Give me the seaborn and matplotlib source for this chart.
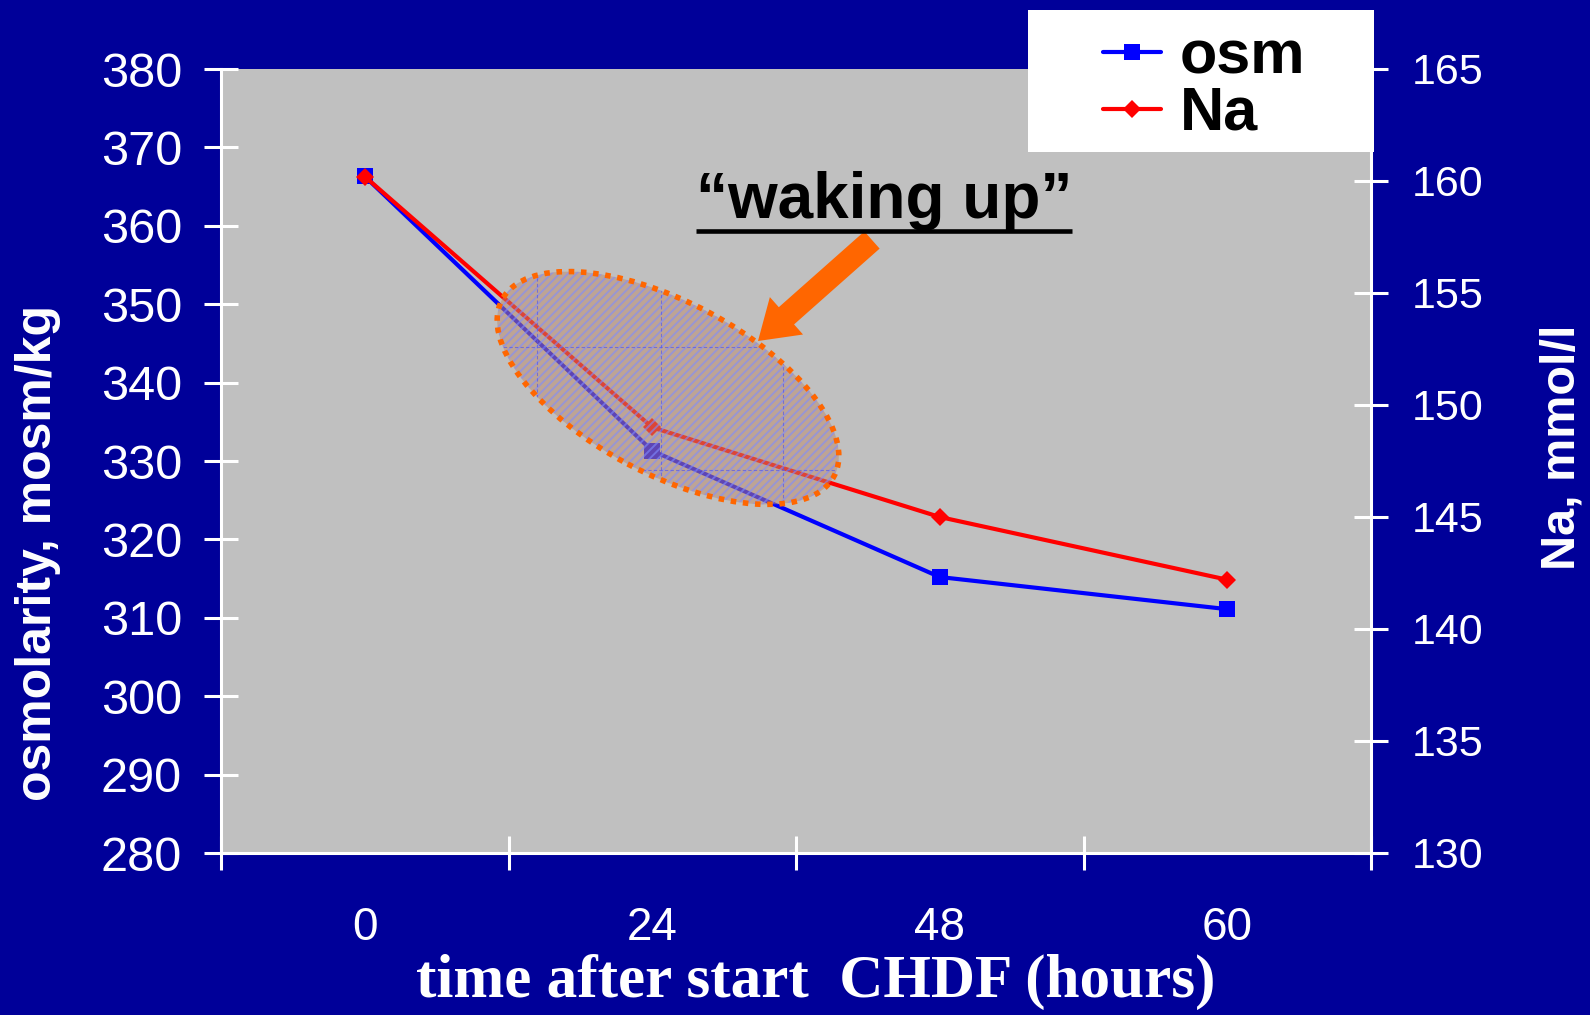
import numpy as np
import pandas as pd
import matplotlib
matplotlib.use("Agg")
import matplotlib.pyplot as plt
import seaborn as sns
from matplotlib.patches import Ellipse, Rectangle, FancyArrow
from matplotlib.lines import Line2D

# ---- data ----
hours = ["0", "24", "48", "60"]
osm = [366.3, 331.3, 315.2, 311.1]          # mosm/kg (left axis)
na = [160.2, 149.0, 145.0, 142.2]           # mmol/l (right axis)
left_ticks = list(range(280, 381, 10))
right_ticks = list(range(130, 166, 5))
series_names = ["osm", "Na"]

NAVY = "#000099"
PLOT_BG = "#C0C0C0"
BLUE = "#0000FF"
RED = "#FF0000"
ORANGE = "#FF6600"

sns.set_theme(style="white")
plt.rcParams["font.family"] = ["Liberation Sans", "DejaVu Sans"]
plt.rcParams["hatch.linewidth"] = 1.4

W, H = 1590, 1015
fig = plt.figure(figsize=(W / 100, H / 100), dpi=100, facecolor=NAVY)
L, R, T, B = 221, 1371, 69, 853
ax = fig.add_axes([L / W, 1 - B / H, (R - L) / W, (B - T) / H])
ax.set_facecolor(PLOT_BG)
ax2 = ax.twinx()

df = pd.DataFrame({"hours": hours, "osm": osm, "na": na})
sns.lineplot(data=df, x="hours", y="osm", ax=ax, color=BLUE, lw=3.0,
             marker="s", markersize=12, markeredgewidth=0, sort=False,
             legend=False)
sns.lineplot(data=df, x="hours", y="na", ax=ax2, color=RED, lw=3.0,
             marker="D", markersize=9, markeredgewidth=0, sort=False,
             legend=False)

# ---- axes styling ----
ax.set_xlim(-0.5, 3.5)
ax.set_ylim(280, 380)
ax2.set_ylim(130, 165)

for s in ["top", "right"]:
    ax.spines[s].set_visible(False)
for s in ["left", "bottom"]:
    ax.spines[s].set_color("white")
    ax.spines[s].set_linewidth(2.2)
for s in ["top", "left", "bottom"]:
    ax2.spines[s].set_visible(False)
ax2.spines["right"].set_color("white")
ax2.spines["right"].set_linewidth(2.2)

ax.set_xticks([-0.5, 0.5, 1.5, 2.5, 3.5], labels=[""] * 5)
ax.set_xticks(range(len(hours)), labels=hours, minor=True)
ax.tick_params(axis="x", which="major", direction="inout", length=24,
               width=2.2, color="white", bottom=True)
ax.tick_params(axis="x", which="minor", direction="out", length=0,
               labelsize=33, labelcolor="white", pad=38, bottom=True)

ax.set_yticks(left_ticks)
ax.tick_params(axis="y", direction="inout", length=24, width=2.2,
               color="white", labelcolor="white", labelsize=35, pad=16,
               left=True)
ax2.set_yticks(right_ticks)
ax2.tick_params(axis="y", direction="inout", length=24, width=2.2,
                color="white", labelcolor="white", labelsize=31, pad=17,
                right=True)

ax.set_ylabel("osmolarity, mosm/kg", color="white", fontsize=36,
              fontweight="bold", va="center")
ax.yaxis.set_label_coords(-0.159, 0.383)
ax2.set_ylabel("Na, mmol/l", color="white", fontsize=35,
               fontweight="bold", va="center", rotation=90)
ax2.yaxis.set_label_coords(1.166, 0.517)
ax.set_xlabel("time after start  CHDF (hours)", color="white", fontsize=44,
              fontweight="bold", family=["Liberation Serif", "DejaVu Serif"],
              va="center")
ax.xaxis.set_label_coords(0.517, -0.165)

# ---- annotation: ellipse, arrow, text ----
ecx, ecy = 6.68, (H - 388) / 100
ew, eh, eang = 3.76, 1.72, -28
ell_fill = Ellipse((ecx, ecy), width=ew, height=eh, angle=eang,
                   transform=fig.dpi_scale_trans,
                   facecolor=(0.74, 0.54, 0.42, 0.5),
                   edgecolor="none", zorder=5)
ell_hatch = Ellipse((ecx, ecy), width=ew, height=eh, angle=eang,
                    transform=fig.dpi_scale_trans, facecolor="none",
                    edgecolor=(0.5, 0.55, 1.0, 0.6), hatch="////", lw=0,
                    zorder=5)
ell_edge = Ellipse((ecx, ecy), width=ew, height=eh, angle=eang,
                   transform=fig.dpi_scale_trans, facecolor="none",
                   edgecolor=ORANGE, lw=4.0, linestyle=(0, (1, 1.2)), zorder=6)
for p in (ell_fill, ell_hatch, ell_edge):
    fig.add_artist(p)

# faint dashed guide lines visible inside the ellipse
for gx in (537, 661, 783):
    ln = Line2D([gx / 100] * 2, [(H - 250) / 100, (H - 520) / 100],
                transform=fig.dpi_scale_trans, color=(0.35, 0.35, 0.9, 0.7),
                lw=0.8, linestyle=(0, (3, 2)), zorder=5.5)
    fig.add_artist(ln)
    ln.set_clip_path(ell_fill)
for gy in (347, 470):
    ln = Line2D([470 / 100, 850 / 100], [(H - gy) / 100] * 2,
                transform=fig.dpi_scale_trans, color=(0.35, 0.35, 0.9, 0.7),
                lw=0.8, linestyle=(0, (3, 2)), zorder=5.5)
    fig.add_artist(ln)
    ln.set_clip_path(ell_fill)

arrow = FancyArrow(8.72, (H - 240) / 100, -1.14, -1.01, width=0.23,
                   head_width=0.5, head_length=0.38, length_includes_head=True,
                   transform=fig.dpi_scale_trans, color=ORANGE, lw=0, zorder=6)
fig.add_artist(arrow)

fig.text(884 / W, 1 - 218 / H, "\u201cwaking up\u201d", ha="center",
         va="baseline", fontsize=46, fontweight="bold", color="black",
         zorder=7)
fig.add_artist(Line2D([696 / W, 1072 / W], [1 - 231 / H] * 2,
                      transform=fig.transFigure, color="black", lw=3.3,
                      solid_capstyle="butt", zorder=7))

# ---- legend ----
fig.add_artist(Rectangle((1028 / W, 1 - 152 / H), (1374 - 1028) / W,
                         (152 - 10) / H, transform=fig.transFigure,
                         facecolor="white", edgecolor="none", zorder=10))
handles = [ax.lines[0], ax2.lines[0]]
leg = fig.legend(handles, series_names, loc="upper left",
                 bbox_to_anchor=(1103 / W, 1 - 29 / H), frameon=False,
                 prop=dict(weight="bold", size=44), labelcolor="black",
                 handlelength=0.95, handletextpad=0.3, labelspacing=0.0,
                 borderpad=0, borderaxespad=0)
leg.set_zorder(11)

fig.savefig("out.png", dpi=100, facecolor=NAVY)
